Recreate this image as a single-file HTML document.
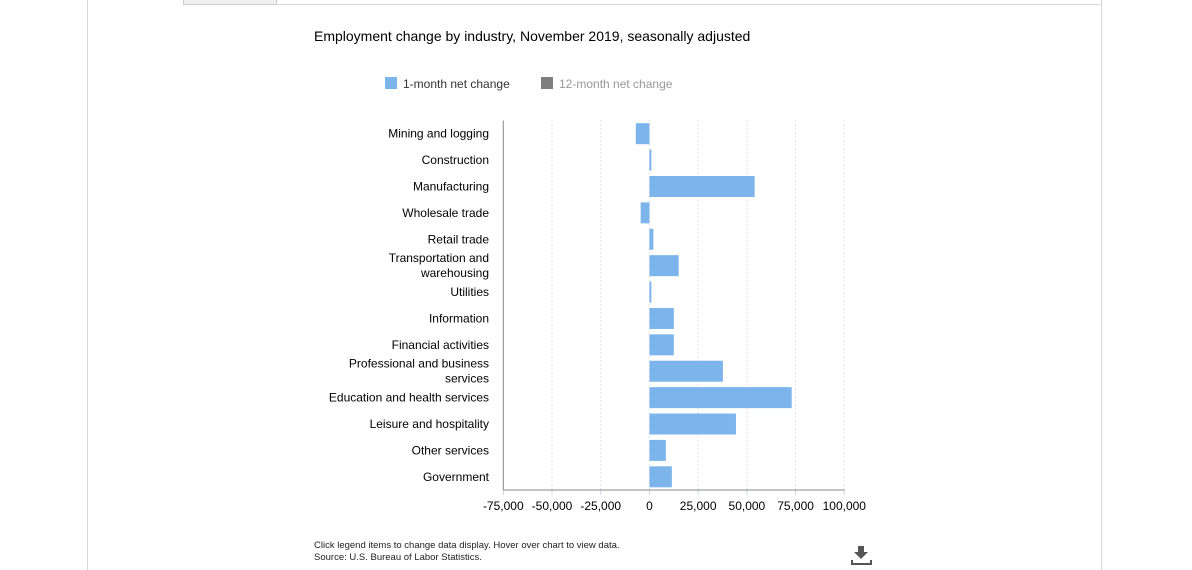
<!DOCTYPE html>
<html><head><meta charset="utf-8"><style>
body{margin:0;width:1192px;height:570px;background:#fff;font-family:"Liberation Sans",Arial,sans-serif;overflow:hidden;position:relative}
.abs{position:absolute}
</style></head><body>
<div class="abs" style="left:87px;top:0;width:1px;height:570px;background:#d8d8d8"></div>
<div class="abs" style="left:1101px;top:0;width:1px;height:570px;background:#d8d8d8"></div>
<div class="abs" style="left:276px;top:4px;width:826px;height:1px;background:#d8d8d8"></div>
<div class="abs" style="left:183px;top:0;width:92px;height:4px;border:1px solid #ccc;border-top:none;background:#f0f0f0"></div>
<svg class="abs" style="left:0;top:0" width="1192" height="570" id="chart">
<text x="314" y="41" font-size="14" fill="#000">Employment change by industry, November 2019, seasonally adjusted</text>
<g><rect x="385" y="77" width="12" height="12" fill="#7cb5ec"/><text x="403" y="88" font-size="12" fill="#333">1-month net change</text></g>
<g><rect x="541" y="77" width="12" height="12" fill="#7f7f7f"/><text x="559" y="88" font-size="12" fill="#999">12-month net change</text></g>
<g id="grid"></g><g id="bars"></g><g id="labels"></g><g id="xaxis"></g>
<text x="314" y="548" font-size="9.5" fill="#222">Click legend items to change data display. Hover over chart to view data.</text>
<text x="314" y="560" font-size="9.5" fill="#222">Source: U.S. Bureau of Labor Statistics.</text>
<g fill="#555"><rect x="858" y="546" width="6" height="6"/><polygon points="854,552 868,552 861,559"/><rect x="851" y="563" width="21" height="2"/><rect x="851" y="560" width="2" height="5"/><rect x="870" y="560" width="2" height="5"/></g>
</svg>
<script>
const categories=[["Mining and logging"],["Construction"],["Manufacturing"],["Wholesale trade"],["Retail trade"],["Transportation and","warehousing"],["Utilities"],["Information"],["Financial activities"],["Professional and business","services"],["Education and health services"],["Leisure and hospitality"],["Other services"],["Government"]];
const values=[-7000,1000,54000,-4500,2000,15000,1000,12500,12500,37700,73000,44400,8400,11500];
const ticks=[-75000,-50000,-25000,0,25000,50000,75000,100000];
const NS="http://www.w3.org/2000/svg";
const x0=503.3,x1=844.3,xmin=-75000,xmax=100000,plotTop=120.5,plotBottom=490;
const xs=v=>x0+(v-xmin)/(xmax-xmin)*(x1-x0);
const band=(plotBottom-plotTop)/categories.length;
const yc=i=>plotTop+band*(i+0.5);
function mk(t,a,p){const e=document.createElementNS(NS,t);for(const k in a)e.setAttribute(k,a[k]);document.getElementById(p).appendChild(e);return e;}
ticks.forEach((t,i)=>{
 if(i>0){const g=mk('line',{x1:xs(t),x2:xs(t),y1:plotTop,y2:plotBottom,stroke:'#c8c8c8','stroke-dasharray':'1,3'},'grid');
 
 }
 const tk=mk('line',{x1:xs(t),x2:xs(t),y1:plotBottom,y2:plotBottom+5,stroke:'#ccd6eb'},'xaxis');
 
 
 const l=mk('text',{x:xs(t),y:510,'font-size':12,'text-anchor':'middle',fill:'#000'},'xaxis');
 l.textContent=t.toLocaleString('en-US');
 
 
});
const ax=mk('line',{x1:x0,x2:x1,y1:plotBottom,y2:plotBottom,stroke:'#888'},'xaxis');


const ay=mk('line',{x1:x0,x2:x0,y1:plotTop,y2:plotBottom,stroke:'#888'},'xaxis');


categories.forEach((c,i)=>{
 const v=values[i];const a=xs(0),b=xs(v);
 const r=mk('rect',{x:Math.min(a,b),y:yc(i)-10.5,width:Math.max(Math.abs(b-a),1),height:21,fill:'#7cb5ec'},'bars');
 
 
 const t=mk('text',{x:489,'font-size':12,'text-anchor':'end',fill:'#000'},'labels');
 
 
 if(c.length===1){t.setAttribute('y',yc(i)+4);t.textContent=c[0];}
 else{c.forEach((s,j)=>{const sp=document.createElementNS(NS,'tspan');sp.setAttribute('x',489);sp.setAttribute('y',yc(i)-3.5+j*15);sp.textContent=s;t.appendChild(sp);});}
});
</script>
</body></html>
